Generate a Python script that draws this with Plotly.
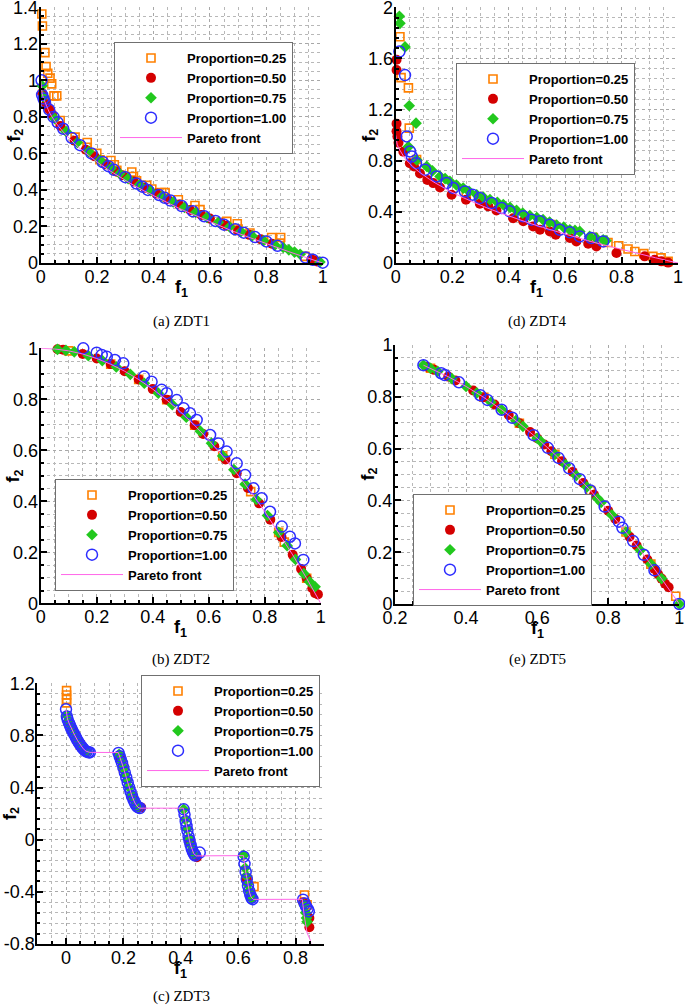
import plotly.graph_objects as go

# ---------------- (a) ZDT1 ----------------
A_P25_X = [0.004, 0.006, 0.015, 0.019, 0.025, 0.033, 0.039, 0.047, 0.057, 0.069, 0.122, 0.165, 0.165, 0.199, 0.21, 0.249, 0.261, 0.27, 0.323, 0.329, 0.34, 0.376, 0.394, 0.429, 0.441, 0.488, 0.547, 0.565, 0.66, 0.697, 0.7, 0.742, 0.819, 0.851, 0.849, 0.937]
A_P25_Y = [1.363, 1.298, 1.152, 1.075, 1.039, 1.012, 0.981, 0.915, 0.915, 0.78, 0.689, 0.66, 0.634, 0.60, 0.565, 0.561, 0.538, 0.507, 0.498, 0.474, 0.45, 0.425, 0.405, 0.386, 0.386, 0.346, 0.315, 0.292, 0.228, 0.215, 0.186, 0.164, 0.14, 0.14, 0.109, 0.036]
A_P50_X = [0.005, 0.02, 0.03, 0.04, 0.07, 0.12, 0.16, 0.19, 0.23, 0.27, 0.29, 0.33, 0.37, 0.41, 0.45, 0.49, 0.53, 0.57, 0.60, 0.64, 0.66, 0.70, 0.74, 0.78, 0.82, 0.96, 0.97, 0.98]
A_P50_Y = [0.93, 0.87, 0.84, 0.815, 0.75, 0.67, 0.62, 0.585, 0.54, 0.50, 0.48, 0.446, 0.412, 0.38, 0.349, 0.32, 0.29, 0.263, 0.243, 0.217, 0.204, 0.178, 0.154, 0.13, 0.105, 0.02, 0.014, 0.008]
A_P75_X = [0.005, 0.01, 0.05, 0.09, 0.13, 0.17, 0.21, 0.25, 0.28, 0.31, 0.35, 0.39, 0.43, 0.47, 0.51, 0.55, 0.59, 0.63, 0.67, 0.71, 0.75, 0.79, 0.83, 0.86, 0.88, 0.90, 0.92, 0.99]
A_P75_Y = [0.97, 0.91, 0.79, 0.72, 0.66, 0.61, 0.563, 0.52, 0.49, 0.462, 0.428, 0.396, 0.365, 0.334, 0.305, 0.277, 0.25, 0.223, 0.198, 0.172, 0.148, 0.122, 0.098, 0.085, 0.072, 0.06, 0.048, 0.006]
A_P100_X = [0.003, 0.005, 0.01, 0.015, 0.03, 0.045, 0.06, 0.08, 0.11, 0.14, 0.18, 0.22, 0.24, 0.26, 0.30, 0.34, 0.36, 0.38, 0.42, 0.44, 0.46, 0.50, 0.54, 0.58, 0.62, 0.65, 0.69, 0.72, 0.76, 0.80, 0.84, 0.94, 0.965, 1.0]
A_P100_Y = [1.0, 0.92, 0.90, 0.88, 0.84, 0.80, 0.77, 0.735, 0.685, 0.645, 0.60, 0.553, 0.53, 0.51, 0.47, 0.435, 0.418, 0.40, 0.372, 0.357, 0.342, 0.312, 0.283, 0.256, 0.23, 0.21, 0.185, 0.166, 0.142, 0.118, 0.094, 0.03, 0.018, 0.002]
PF1_X = [0, 0.005, 0.01, 0.02, 0.03, 0.04, 0.05, 0.06, 0.08, 0.10, 0.12, 0.14, 0.16, 0.18, 0.20, 0.24, 0.28, 0.32, 0.36, 0.40, 0.44, 0.48, 0.52, 0.56, 0.60, 0.64, 0.68, 0.72, 0.76, 0.80, 0.84, 0.88, 0.92, 0.96, 1.0]
PF1_Y = [1.0, 0.929, 0.9, 0.859, 0.827, 0.8, 0.776, 0.755, 0.717, 0.684, 0.654, 0.626, 0.6, 0.576, 0.553, 0.51, 0.471, 0.434, 0.4, 0.368, 0.337, 0.307, 0.279, 0.252, 0.225, 0.2, 0.175, 0.151, 0.128, 0.106, 0.083, 0.062, 0.041, 0.02, 0.0]

# ---------------- (d) ZDT4 ----------------
D_P25_X = [0.015, 0.019, 0.045, 0.048, 0.074, 0.25, 0.30, 0.44, 0.55, 0.70, 0.752, 0.79, 0.823, 0.847, 0.879, 0.911, 0.94, 0.965]
D_P25_Y = [1.77, 1.45, 1.37, 1.055, 0.81, 0.53, 0.49, 0.365, 0.30, 0.20, 0.16, 0.135, 0.11, 0.09, 0.073, 0.052, 0.04, 0.013]
D_P50_X = [0.003, 0.003, 0.003, 0.003, 0.006, 0.01, 0.027, 0.05, 0.065, 0.086, 0.112, 0.133, 0.157, 0.198, 0.249, 0.298, 0.328, 0.357, 0.416, 0.452, 0.487, 0.511, 0.546, 0.567, 0.617, 0.64, 0.682, 0.711, 0.782, 0.882, 0.917, 0.941, 0.965]
D_P50_Y = [1.59, 1.51, 1.09, 1.03, 0.99, 0.94, 0.87, 0.78, 0.755, 0.70, 0.65, 0.625, 0.59, 0.534, 0.495, 0.464, 0.443, 0.411, 0.35, 0.326, 0.286, 0.26, 0.247, 0.221, 0.195, 0.169, 0.151, 0.13, 0.078, 0.052, 0.026, 0.013, 0.003]
D_P75_X = [0.013, 0.015, 0.033, 0.048, 0.072, 0.045, 0.074, 0.11, 0.13, 0.157, 0.175, 0.192, 0.215, 0.239, 0.26, 0.287, 0.31, 0.334, 0.36, 0.381, 0.405, 0.428, 0.45, 0.475, 0.5, 0.522, 0.545, 0.57, 0.595, 0.617, 0.635, 0.652, 0.687, 0.71, 0.735, 0.745]
D_P75_Y = [1.93, 1.875, 1.69, 1.23, 1.094, 0.91, 0.807, 0.755, 0.72, 0.677, 0.66, 0.638, 0.61, 0.586, 0.56, 0.534, 0.515, 0.495, 0.475, 0.456, 0.435, 0.411, 0.39, 0.37, 0.355, 0.339, 0.32, 0.297, 0.28, 0.26, 0.255, 0.247, 0.208, 0.195, 0.182, 0.175]
D_P100_X = [0.013, 0.033, 0.039, 0.051, 0.057, 0.072, 0.104, 0.145, 0.18, 0.204, 0.245, 0.272, 0.298, 0.34, 0.375, 0.404, 0.452, 0.481, 0.511, 0.546, 0.581, 0.617, 0.652, 0.693, 0.735]
D_P100_Y = [1.654, 1.47, 0.99, 0.872, 0.833, 0.781, 0.729, 0.677, 0.625, 0.586, 0.56, 0.534, 0.508, 0.469, 0.43, 0.404, 0.365, 0.339, 0.326, 0.3, 0.26, 0.24, 0.208, 0.195, 0.169]

# ---------------- (b) ZDT2 ----------------
B_P25_X = [0.1, 0.25, 0.35, 0.45, 0.55, 0.65, 0.75, 0.85, 0.87, 0.95]
B_P25_Y = [0.99, 0.938, 0.878, 0.798, 0.698, 0.578, 0.438, 0.278, 0.24, 0.098]
B_P50_X = [0.06, 0.08, 0.15, 0.2, 0.25, 0.3, 0.35, 0.4, 0.45, 0.5, 0.55, 0.58, 0.62, 0.66, 0.7, 0.74, 0.78, 0.82, 0.86, 0.9, 0.93, 0.95, 0.97, 0.98, 0.99]
B_P50_Y = [0.996, 0.994, 0.978, 0.96, 0.938, 0.91, 0.878, 0.84, 0.798, 0.75, 0.698, 0.664, 0.616, 0.564, 0.51, 0.452, 0.392, 0.328, 0.26, 0.19, 0.135, 0.098, 0.059, 0.04, 0.035]
B_P75_X = [0.06, 0.09, 0.12, 0.17, 0.22, 0.27, 0.32, 0.37, 0.42, 0.47, 0.52, 0.57, 0.61, 0.65, 0.69, 0.73, 0.77, 0.81, 0.85, 0.88, 0.91, 0.94, 0.96, 0.98]
B_P75_Y = [0.996, 0.992, 0.986, 0.971, 0.952, 0.927, 0.898, 0.863, 0.824, 0.779, 0.73, 0.675, 0.628, 0.578, 0.524, 0.467, 0.407, 0.344, 0.278, 0.226, 0.172, 0.116, 0.085, 0.065]
B_P100_X = [0.152, 0.2, 0.218, 0.236, 0.265, 0.295, 0.369, 0.396, 0.432, 0.45, 0.486, 0.51, 0.533, 0.557, 0.605, 0.635, 0.664, 0.7, 0.73, 0.76, 0.789, 0.819, 0.861, 0.89, 0.908, 0.938]
B_P100_Y = [1.0, 0.983, 0.974, 0.967, 0.954, 0.941, 0.889, 0.869, 0.837, 0.824, 0.797, 0.765, 0.745, 0.719, 0.66, 0.627, 0.595, 0.549, 0.503, 0.451, 0.412, 0.359, 0.301, 0.261, 0.235, 0.17]
PF2_X = [0, 0.05, 0.1, 0.15, 0.2, 0.25, 0.3, 0.35, 0.4, 0.45, 0.5, 0.55, 0.6, 0.65, 0.7, 0.75, 0.8, 0.85, 0.9, 0.95, 1.0]
PF2_Y = [1.0, 0.9975, 0.99, 0.9775, 0.96, 0.9375, 0.91, 0.8775, 0.84, 0.7975, 0.75, 0.6975, 0.64, 0.5775, 0.51, 0.4375, 0.36, 0.2775, 0.19, 0.0975, 0.0]

# ---------------- (e) ZDT5 ----------------
E_P25_X = [0.30, 0.45, 0.55, 0.65, 0.75, 0.85, 0.92, 0.99]
E_P25_Y = [0.91, 0.798, 0.698, 0.578, 0.438, 0.278, 0.154, 0.03]
E_P50_X = [0.29, 0.31, 0.35, 0.37, 0.42, 0.45, 0.48, 0.52, 0.55, 0.58, 0.60, 0.62, 0.64, 0.67, 0.70, 0.73, 0.76, 0.80, 0.82, 0.86, 0.88, 0.91, 0.93, 0.94, 0.95, 0.96, 0.97]
E_P50_Y = [0.916, 0.904, 0.878, 0.863, 0.824, 0.798, 0.77, 0.73, 0.698, 0.664, 0.64, 0.616, 0.59, 0.551, 0.51, 0.467, 0.422, 0.36, 0.328, 0.26, 0.226, 0.172, 0.135, 0.116, 0.098, 0.078, 0.065]
E_P75_X = [0.28, 0.30, 0.32, 0.36, 0.40, 0.43, 0.47, 0.50, 0.54, 0.56, 0.60, 0.61, 0.65, 0.68, 0.71, 0.74, 0.77, 0.78, 0.81, 0.85, 0.89, 0.92, 0.95, 1.0]
E_P75_Y = [0.922, 0.91, 0.898, 0.870, 0.84, 0.815, 0.779, 0.75, 0.708, 0.686, 0.64, 0.628, 0.578, 0.538, 0.496, 0.452, 0.407, 0.392, 0.344, 0.278, 0.208, 0.154, 0.098, 0.0]
E_P100_X = [0.28, 0.33, 0.34, 0.38, 0.44, 0.46, 0.5, 0.53, 0.59, 0.63, 0.66, 0.69, 0.72, 0.75, 0.79, 0.83, 0.84, 0.87, 0.90, 0.93, 1.0]
E_P100_Y = [0.922, 0.891, 0.884, 0.856, 0.806, 0.788, 0.75, 0.719, 0.652, 0.603, 0.564, 0.524, 0.482, 0.438, 0.376, 0.318, 0.294, 0.243, 0.19, 0.13, 0.0]
PF5_X = [0.28, 0.3, 0.35, 0.4, 0.45, 0.5, 0.55, 0.6, 0.65, 0.7, 0.75, 0.8, 0.85, 0.9, 0.95, 1.0]
PF5_Y = [0.922, 0.91, 0.8775, 0.84, 0.7975, 0.75, 0.6975, 0.64, 0.5775, 0.51, 0.4375, 0.36, 0.2775, 0.19, 0.0975, 0.0]

# ---------------- (c) ZDT3 ----------------
C_P25_X = [0.002, 0.002, 0.002, 0.002, 0.05, 0.2, 0.43, 0.63, 0.655, 0.831, 0.84]
C_P25_Y = [1.144, 1.11, 1.077, 1.05, 0.726, 0.553, -0.004, -0.303, -0.36, -0.424, -0.5]
C_P50_X = [0.02, 0.06, 0.19, 0.23, 0.262, 0.43, 0.456, 0.63, 0.645, 0.826, 0.848, 0.848]
C_P50_Y = [0.847, 0.698, 0.623, 0.334, 0.248, -0.004, -0.135, -0.303, -0.44, -0.48, -0.6, -0.672]
C_P75_X = [0.002, 0.008, 0.015, 0.025, 0.035, 0.045, 0.055, 0.065, 0.075, 0.185, 0.193, 0.2, 0.207, 0.213, 0.22, 0.228, 0.235, 0.243, 0.25, 0.41, 0.416, 0.422, 0.428, 0.434, 0.44, 0.446, 0.619, 0.624, 0.628, 0.633, 0.638, 0.643, 0.648, 0.83, 0.835, 0.838, 0.84]
C_P75_Y = [0.955, 0.909, 0.871, 0.824, 0.782, 0.743, 0.711, 0.687, 0.673, 0.654, 0.603, 0.553, 0.5, 0.454, 0.402, 0.346, 0.306, 0.27, 0.25, 0.233, 0.154, 0.082, 0.016, -0.039, -0.082, -0.11, -0.12, -0.217, -0.277, -0.341, -0.392, -0.429, -0.452, -0.5, -0.56, -0.6, -0.63]
C_P100_X = [0.0, 0.003, 0.006, 0.01, 0.014, 0.018, 0.022, 0.026, 0.03, 0.035, 0.04, 0.045, 0.05, 0.055, 0.06, 0.066, 0.072, 0.078, 0.083,
            0.183, 0.187, 0.191, 0.195, 0.2, 0.205, 0.21, 0.215, 0.22, 0.225, 0.23, 0.235, 0.24, 0.245, 0.25, 0.257,
            0.41, 0.413, 0.417, 0.42, 0.423, 0.427, 0.43, 0.434, 0.438, 0.442, 0.446, 0.45, 0.466,
            0.619, 0.622, 0.626, 0.63, 0.634, 0.638, 0.642, 0.646, 0.65,
            0.826, 0.832, 0.836, 0.842, 0.846]
C_P100_Y = [1.0, 0.945, 0.921, 0.897, 0.876, 0.856, 0.837, 0.82, 0.803, 0.782, 0.762, 0.743, 0.726, 0.711, 0.698, 0.683, 0.676, 0.671, 0.67,
            0.666, 0.641, 0.616, 0.589, 0.553, 0.515, 0.477, 0.439, 0.402, 0.367, 0.334, 0.306, 0.282, 0.263, 0.25, 0.243,
            0.233, 0.193, 0.142, 0.105, 0.07, 0.026, -0.004, -0.039, -0.069, -0.093, -0.11, -0.121, -0.099,
            -0.13, -0.185, -0.247, -0.303, -0.352, -0.392, -0.423, -0.445, -0.456,
            -0.46, -0.49, -0.51, -0.53, -0.55]
PF3_X = [0.0, 0.005, 0.01, 0.02, 0.03, 0.04, 0.05, 0.06, 0.07, 0.083, 0.1822, 0.19, 0.2, 0.21, 0.22, 0.23, 0.24, 0.25, 0.2577,
         0.4093, 0.415, 0.42, 0.425, 0.43, 0.435, 0.44, 0.445, 0.4538, 0.6183, 0.625, 0.63, 0.635, 0.64, 0.645, 0.6525,
         0.8233, 0.83, 0.84, 0.8518, 0.853]
PF3_Y = [1.0, 0.928, 0.897, 0.847, 0.803, 0.762, 0.726, 0.698, 0.679, 0.67, 0.669, 0.623, 0.553, 0.477, 0.402, 0.334, 0.282, 0.25, 0.242,
         0.242, 0.167, 0.105, 0.048, -0.004, -0.047, -0.082, -0.107, -0.124, -0.122, -0.233, -0.303, -0.363, -0.409, -0.44, -0.458,
         -0.457, -0.582, -0.715, -0.773, -0.8]

SERIES_NAMES = ["Proportion=0.25", "Proportion=0.50", "Proportion=0.75", "Proportion=1.00", "Pareto front"]
CAPTIONS = ["(a) ZDT1", "(d) ZDT4", "(b) ZDT2", "(e) ZDT5", "(c) ZDT3"]

# tick labels
TICKS_A_Y = [0, 0.2, 0.4, 0.6, 0.8, 1, 1.2, 1.4]
TICKS_D_Y = [0, 0.4, 0.8, 1.2, 1.6, 2]
TICKS_01 = [0, 0.2, 0.4, 0.6, 0.8, 1]
TICKS_E_X = [0.2, 0.4, 0.6, 0.8, 1]
TICKS_C_X = [0, 0.2, 0.4, 0.6, 0.8]
TICKS_C_Y = [-0.8, -0.4, 0, 0.4, 0.8, 1.2]
TICKS_C_Y_TEXT = ["-0.8", "-0.4", "0", "0.4", "0.8", "1.2"]

W, H = 685, 1008
FONT = "Liberation Sans, Arial, sans-serif"
C_OR, C_RED, C_GR, C_BL, C_PF = "#FF8000", "#D40000", "#22C81E", "#2D2DFF", "#FF66E8"


def fmt(v):
    return "%g" % v


def xd(px0, px1):
    return [px0 / W, px1 / W]


def yd(top, bottom):
    return [1 - bottom / H, 1 - top / H]


def axis(domain, rng, tickvals, ticktext, minor_dtick, minor_tick0, anchor, standoff):
    return dict(
        domain=domain, range=rng, anchor=anchor, automargin=False,
        tickmode="array", tickvals=tickvals, ticktext=ticktext,
        ticks="inside", ticklen=6, tickwidth=1.5, tickcolor="black",
        showline=True, linecolor="black", linewidth=2, mirror=False,
        showgrid=True, gridcolor="#a8a8a8", griddash="dot", gridwidth=1,
        zeroline=False, ticklabeloverflow="allow", ticklabelstandoff=standoff,
        tickfont=dict(family=FONT, size=18, color="black"),
        minor=dict(tick0=minor_tick0, dtick=minor_dtick, ticks="inside", ticklen=3,
                   tickcolor="black", showgrid=True, gridcolor="#b8b8b8", griddash="dot", gridwidth=1),
        fixedrange=True,
    )


panels = [
    dict(x="x", y="y", leg="legend",
         data=[(A_P25_X, A_P25_Y), (A_P50_X, A_P50_Y), (A_P75_X, A_P75_Y), (A_P100_X, A_P100_Y), (PF1_X, PF1_Y)],
         xdom=xd(40.7, 322.7), ydom=yd(7.3, 263), xr=[0, 1], yr=[0, 1.4], xt=TICKS_01, yt=TICKS_A_Y, ytt=None,
         ym=0.05, ym0=0, xm0=0, lpos=(114, 42)),
    dict(x="x2", y="y2", leg="legend2",
         data=[(D_P25_X, D_P25_Y), (D_P50_X, D_P50_Y), (D_P75_X, D_P75_Y), (D_P100_X, D_P100_Y), (PF1_X, PF1_Y)],
         xdom=xd(395.7, 678), ydom=yd(7.3, 263), xr=[0, 1], yr=[0, 2], xt=TICKS_01, yt=TICKS_D_Y, ytt=None,
         ym=0.08, ym0=0, xm0=0, lpos=(456, 63)),
    dict(x="x3", y="y3", leg="legend3",
         data=[(B_P25_X, B_P25_Y), (B_P50_X, B_P50_Y), (B_P75_X, B_P75_Y), (B_P100_X, B_P100_Y), (PF2_X, PF2_Y)],
         xdom=xd(40.7, 320.7), ydom=yd(348.3, 603.3), xr=[0, 1], yr=[0, 1], xt=TICKS_01, yt=TICKS_01, ytt=None,
         ym=0.05, ym0=0, xm0=0, lpos=(55, 479)),
    dict(x="x4", y="y4", leg="legend4",
         data=[(E_P25_X, E_P25_Y), (E_P50_X, E_P50_Y), (E_P75_X, E_P75_Y), (E_P100_X, E_P100_Y), (PF5_X, PF5_Y)],
         xdom=xd(395, 679.3), ydom=yd(345, 604), xr=[0.2, 1], yr=[0, 1], xt=TICKS_E_X, yt=TICKS_01, ytt=None,
         ym=0.05, ym0=0, xm0=0.2, lpos=(413, 494)),
    dict(x="x5", y="y5", leg="legend5",
         data=[(C_P25_X, C_P25_Y), (C_P50_X, C_P50_Y), (C_P75_X, C_P75_Y), (C_P100_X, C_P100_Y), (PF3_X, PF3_Y)],
         xdom=xd(37.3, 324.3), ydom=yd(683.3, 944), xr=[-0.1, 0.9], yr=[-0.8, 1.2], xt=TICKS_C_X, yt=TICKS_C_Y,
         ytt=TICKS_C_Y_TEXT, ym=0.08, ym0=-0.8, xm0=0, lpos=(141, 675)),
]

styles = [
    dict(mode="markers", marker=dict(symbol="square-open", size=8, color=C_OR, line=dict(width=1.6, color=C_OR))),
    dict(mode="markers", marker=dict(symbol="circle", size=10, color=C_RED, line=dict(width=0))),
    dict(mode="markers", marker=dict(symbol="diamond", size=9, color=C_GR, line=dict(width=0))),
    dict(mode="markers", marker=dict(symbol="circle-open", size=11, color=C_BL, line=dict(width=1.5, color=C_BL))),
    dict(mode="lines", line=dict(color=C_PF, width=1)),
]

fig = go.Figure()
layout = dict(width=W, height=H, margin=dict(l=0, r=0, t=0, b=0, autoexpand=False),
              paper_bgcolor="white", plot_bgcolor="white", showlegend=True)
annotations = []

for p in panels:
    for (xs, ys), name, st in zip(p["data"], SERIES_NAMES, styles):
        fig.add_trace(go.Scatter(x=xs, y=ys, name=name, xaxis=p["x"], yaxis=p["y"],
                                 legend=p["leg"], cliponaxis=False, hoverinfo="skip", **st))
    xkey = "xaxis" + p["x"][1:]
    ykey = "yaxis" + p["y"][1:]
    layout[xkey] = axis(p["xdom"], p["xr"], p["xt"], [fmt(v) for v in p["xt"]], 0.05, p["xm0"], p["y"], -4)
    layout[ykey] = axis(p["ydom"], p["yr"], p["yt"], p["ytt"] or [fmt(v) for v in p["yt"]], p["ym"], p["ym0"], p["x"], -3)
    lx, ly = p["lpos"]
    layout[p["leg"]] = dict(
        x=lx / W, y=1 - ly / H, xanchor="left", yanchor="top",
        bgcolor="white", bordercolor="#707070", borderwidth=1,
        font=dict(family=FONT, size=13, color="black", weight="bold"),
        itemwidth=62, tracegroupgap=0, itemsizing="trace",
    )
    x0, x1 = p["xdom"]
    y0, y1 = p["ydom"]
    xc = (x0 + x1) / 2
    annotations.append(dict(text="<b>f<sub>1</sub></b>", x=xc, y=y0 - 25 / H, xref="paper", yref="paper",
                            showarrow=False, font=dict(family=FONT, size=18, color="black"),
                            xanchor="center", yanchor="middle"))
    annotations.append(dict(text="<b>f<sub>2</sub></b>", x=x0 - 26 / W, y=(y0 + y1) / 2, xref="paper", yref="paper",
                            showarrow=False, textangle=-90, font=dict(family=FONT, size=18, color="black"),
                            xanchor="center", yanchor="middle"))

CAP_POS = [(181, 321), (537, 321), (181, 659), (537, 659), (181, 996)]
for cap, (cx, cy) in zip(CAPTIONS, CAP_POS):
    annotations.append(dict(text=cap, x=cx / W, y=1 - cy / H, xref="paper", yref="paper", showarrow=False,
                            font=dict(family="Liberation Serif, Times New Roman, serif", size=15, color="black"),
                            xanchor="center", yanchor="middle"))

layout["annotations"] = annotations
fig.update_layout(**layout)
fig.write_html("out.html", config={"displayModeBar": False},
               post_script="document.body.style.margin='0';document.body.style.padding='0';document.body.style.overflow='hidden';")
